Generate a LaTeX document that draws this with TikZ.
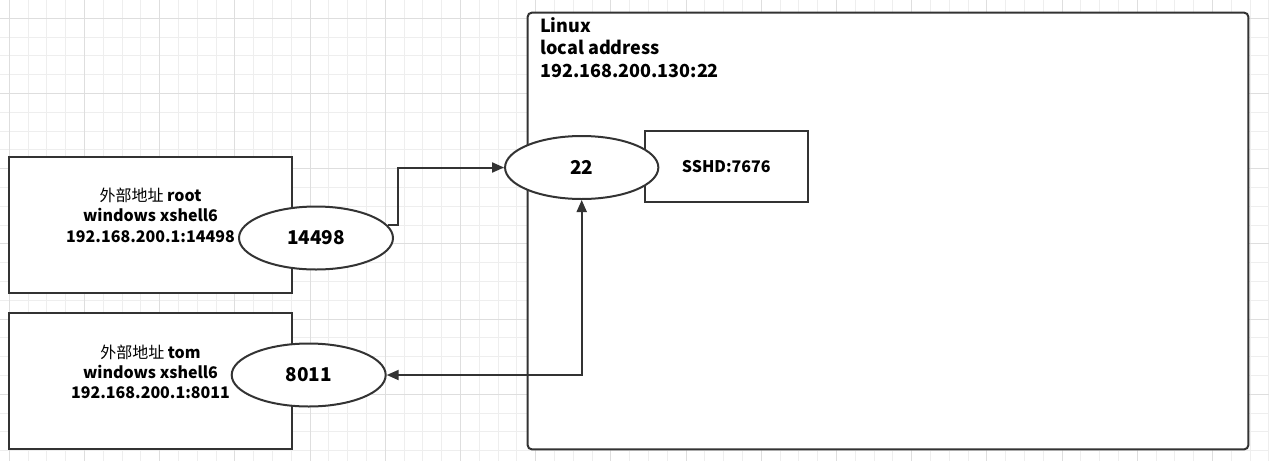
\documentclass[tikz,border=0pt]{standalone}
\usepackage{fontspec}
\setmainfont{Noto Sans CJK SC}
\usetikzlibrary{shapes.geometric,arrows.meta}

\begin{document}
\begin{tikzpicture}[x=1pt,y=1pt,yscale=-1,
  gridminor/.style={color={rgb, 255:red, 238; green, 238; blue, 238}, line width=1},
  gridmajor/.style={color={rgb, 255:red, 222; green, 222; blue, 222}, line width=1},
  boxed/.style={draw={rgb, 255:red, 51; green, 51; blue, 51}, line width=2, fill=white, inner sep=0},
  port/.style={ellipse, draw={rgb, 255:red, 51; green, 51; blue, 51}, line width=2, fill=white, inner sep=0,
    minimum width=154, minimum height=63, font=\bfseries\fontsize{19}{22}\selectfont},
  link/.style={draw={rgb, 255:red, 51; green, 51; blue, 51}, line width=2, -{Triangle[length=12,width=10]}}]
\useasboundingbox (0,0) rectangle (1269,461);
%Grid
\foreach \i in {0,...,67} \draw [gridminor] ({9.3+18.8*\i},0) -- ++(0,461) ;
\foreach \j in {0,...,23} \draw [gridminor] (0,{18.3+18.8*\j}) -- ++(1269,0) ;
\foreach \i in {0,4,...,64} \draw [gridmajor] ({9.3+18.8*\i},0) -- ++(0,461) ;
\foreach \j in {0,4,...,20} \draw [gridmajor] (0,{18.3+18.8*\j}) -- ++(1269,0) ;
%Shape: Rectangle
\node [boxed, rounded corners=4, minimum width=720.6, minimum height=436.6] (linux) at (888,231) {} ;
% Text Node
\node [anchor=north west, inner sep=0, align=left, font=\bfseries\fontsize{18}{22.7}\selectfont] (linuxtxt) at (540,17) {Linux\\local address\\192.168.200.130:22} ;
%Shape: Rectangle
\node [boxed, minimum width=283, minimum height=136] (root) at (150.5,225.3) {} ;
%Shape: Rectangle
\node [boxed, minimum width=283, minimum height=136] (tom) at (150.5,381.3) {} ;
% Text Node
\node [inner sep=0, align=center, font=\bfseries\fontsize{16}{20.3}\selectfont] (roottxt) at (150.5,215.3) {{\mdseries 外部地址} root\\windows xshell6\\192.168.200.1:14498} ;
% Text Node
\node [inner sep=0, align=center, font=\bfseries\fontsize{16}{19.7}\selectfont] (tomtxt) at (150.5,372) {{\mdseries 外部地址} tom\\windows xshell6\\192.168.200.1:8011} ;
%Shape: Rectangle
\node [boxed, minimum width=162.7, minimum height=71.3, font=\bfseries\fontsize{16}{19}\selectfont] (sshd) at (726.3,166.7) {SSHD:7676} ;
%Shape: Ellipse
\node [port, minimum width=153.3] (p22) at (581.7,167.5) {22} ;
%Shape: Ellipse
\node [port] (p14498) at (316,238) {14498} ;
%Shape: Ellipse
\node [port] (p8011) at (308.7,375) {8011} ;
%Straight Lines
\draw [link] (p14498.10) -- ++(10,0) |- (p22.west) ;
%Straight Lines
\draw [link, {Triangle[length=12,width=10]}-{Triangle[length=12,width=10]}] (p8011.east) -| (p22.south) ;
\end{tikzpicture}
\end{document}
